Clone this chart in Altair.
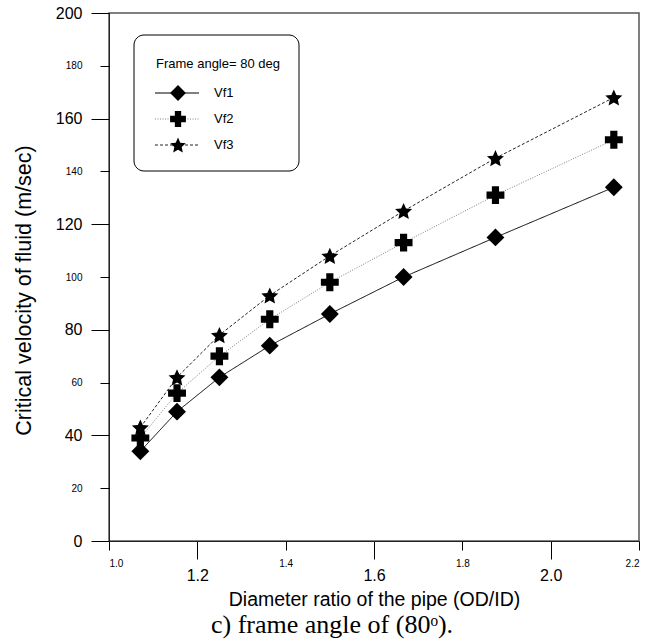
import altair as alt
import pandas as pd

# ---- data ----
ratio = [1.071, 1.154, 1.25, 1.364, 1.5, 1.667, 1.875, 2.143]
vf1 = [34, 49, 62, 74, 86, 100, 115, 134]
vf2 = [39, 56, 70, 84, 98, 113, 131, 152]
vf3 = [43, 62, 78, 93, 108, 125, 145, 168]
series_names = ["Vf1", "Vf2", "Vf3"]
STAR = ("M0,-0.9045L0.2763,-0.2847L0.9511,-0.2135L0.447,0.2407L0.5878,0.9045L0,0.5655"
        "L-0.5878,0.9045L-0.447,0.2407L-0.9511,-0.2135L-0.2763,-0.2847Z")
series_shapes = ["diamond", "cross", STAR]
series_sizes = [320, 320, 340]
legend_sizes = [250, 250, 270]
series_colors = ["#000000", "#808080", "#222222"]
series_dashes = [[1, 0], [1, 1.5], [3, 2]]

y_major = [0, 40, 80, 120, 160, 200]
y_minor = [20, 60, 100, 140, 180]
x_major = [1.2, 1.6, 2.0]
x_minor = [1.0, 1.4, 1.8, 2.2]

legend_title = "Frame angle= 80 deg"
x_title = "Diameter ratio of the pipe (OD/ID)"
y_title = "Critical velocity of fluid (m/sec)"
caption = "c) frame angle of (80\u1d52)."

rows = []
for name, vals in zip(series_names, [vf1, vf2, vf3]):
    for r, v in zip(ratio, vals):
        rows.append({"ratio": r, "value": v, "series": name})
df = pd.DataFrame(rows)
one = pd.DataFrame({"k": [0]})

FONT = "Liberation Sans"
W, H = 530, 528
xs = alt.Scale(domain=[1.0, 2.2], nice=False, zero=False)
ys = alt.Scale(domain=[0, 200], nice=False, zero=False)

base = alt.Chart(df)

axis_major = base.mark_point(opacity=0).encode(
    x=alt.X("ratio:Q", scale=xs, title=x_title,
            axis=alt.Axis(orient="bottom", values=x_major, format=".1f", tickSize=18,
                          labelFontSize=16, labelPadding=8, grid=False,
                          domain=True, domainColor="#222", domainWidth=1,
                          tickColor="#000", labelColor="#000", labelFont=FONT,
                          titleFont=FONT, titleFontSize=19.5, titleFontWeight="normal",
                          titleColor="#000", titlePadding=7)),
    y=alt.Y("value:Q", scale=ys, title=y_title,
            axis=alt.Axis(orient="left", values=y_major, tickSize=18, labelFontSize=16,
                          labelPadding=9, grid=False,
                          domain=True, domainColor="#222", domainWidth=1,
                          tickColor="#000", labelColor="#000", labelFont=FONT,
                          titleFont=FONT, titleFontSize=21.5, titleFontWeight="normal",
                          titleColor="#000", titleY=277, titleX=-85, titleBaseline="middle")),
)

axis_minor = base.mark_point(opacity=0).encode(
    x=alt.X("ratio:Q", scale=xs, title=None,
            axis=alt.Axis(orient="bottom", values=x_minor, format=".1f", tickSize=9,
                          labelFontSize=10, labelPadding=8, grid=False, domain=False,
                          tickColor="#000", labelColor="#000", labelFont=FONT)),
    y=alt.Y("value:Q", scale=ys, title=None,
            axis=alt.Axis(orient="left", values=y_minor, tickSize=9, labelFontSize=10,
                          labelPadding=18, grid=False, domain=False, tickColor="#000",
                          labelColor="#000", labelFont=FONT)),
)

lines = base.mark_line(strokeWidth=1).encode(
    x=alt.X("ratio:Q", scale=xs, axis=None),
    y=alt.Y("value:Q", scale=ys, axis=None),
    color=alt.Color("series:N", scale=alt.Scale(domain=series_names, range=series_colors), legend=None),
    strokeDash=alt.StrokeDash("series:N", scale=alt.Scale(domain=series_names, range=series_dashes), legend=None),
)

points = base.mark_point(filled=True, opacity=1, color="#000").encode(
    x=alt.X("ratio:Q", scale=xs, axis=None),
    y=alt.Y("value:Q", scale=ys, axis=None),
    shape=alt.Shape("series:N", scale=alt.Scale(domain=series_names, range=series_shapes), legend=None),
    size=alt.Size("series:N", scale=alt.Scale(domain=series_names, range=series_sizes), legend=None),
)

# ---- hand-drawn legend box ----
box = alt.Chart(one).mark_rect(fill="white", stroke="#000", strokeWidth=1, cornerRadius=10).encode(
    x=alt.value(25), x2=alt.value(190), y=alt.value(22), y2=alt.value(158))
ltitle = alt.Chart(one).mark_text(align="left", baseline="middle", font=FONT, fontSize=13, color="#000").encode(
    x=alt.value(47), y=alt.value(51), text=alt.value(legend_title))
leg_layers = [box, ltitle]
for i, name in enumerate(series_names):
    yy = 80 + 26 * i
    leg_layers.append(alt.Chart(one).mark_rule(strokeWidth=1, color=series_colors[i],
                                               strokeDash=series_dashes[i]).encode(
        x=alt.value(46), x2=alt.value(90), y=alt.value(yy)))
    leg_layers.append(alt.Chart(one).mark_point(filled=True, opacity=1, color="#000",
                                                shape=series_shapes[i], size=legend_sizes[i]).encode(
        x=alt.value(69), y=alt.value(yy)))
    leg_layers.append(alt.Chart(one).mark_text(align="left", baseline="middle", font=FONT,
                                               fontSize=13, color="#000").encode(
        x=alt.value(105), y=alt.value(yy), text=alt.value(name)))

cap = alt.Chart(one).mark_text(align="left", baseline="middle", font="Liberation Serif",
                               fontSize=26, color="#000").encode(
    x=alt.value(102), y=alt.value(612), text=alt.value(caption))

chart = alt.layer(axis_major, axis_minor, lines, points, *leg_layers, cap).resolve_axis(
    x="independent", y="independent"
).properties(
    width=W, height=H,
    autosize=alt.AutoSizeParams(type="none"),
    padding={"left": 109, "top": 13, "right": 9, "bottom": 100},
).configure(background="white").configure_view(stroke="#555", strokeWidth=1.5)

chart.save("out.html", embed_options={"renderer": "svg", "actions": False})
